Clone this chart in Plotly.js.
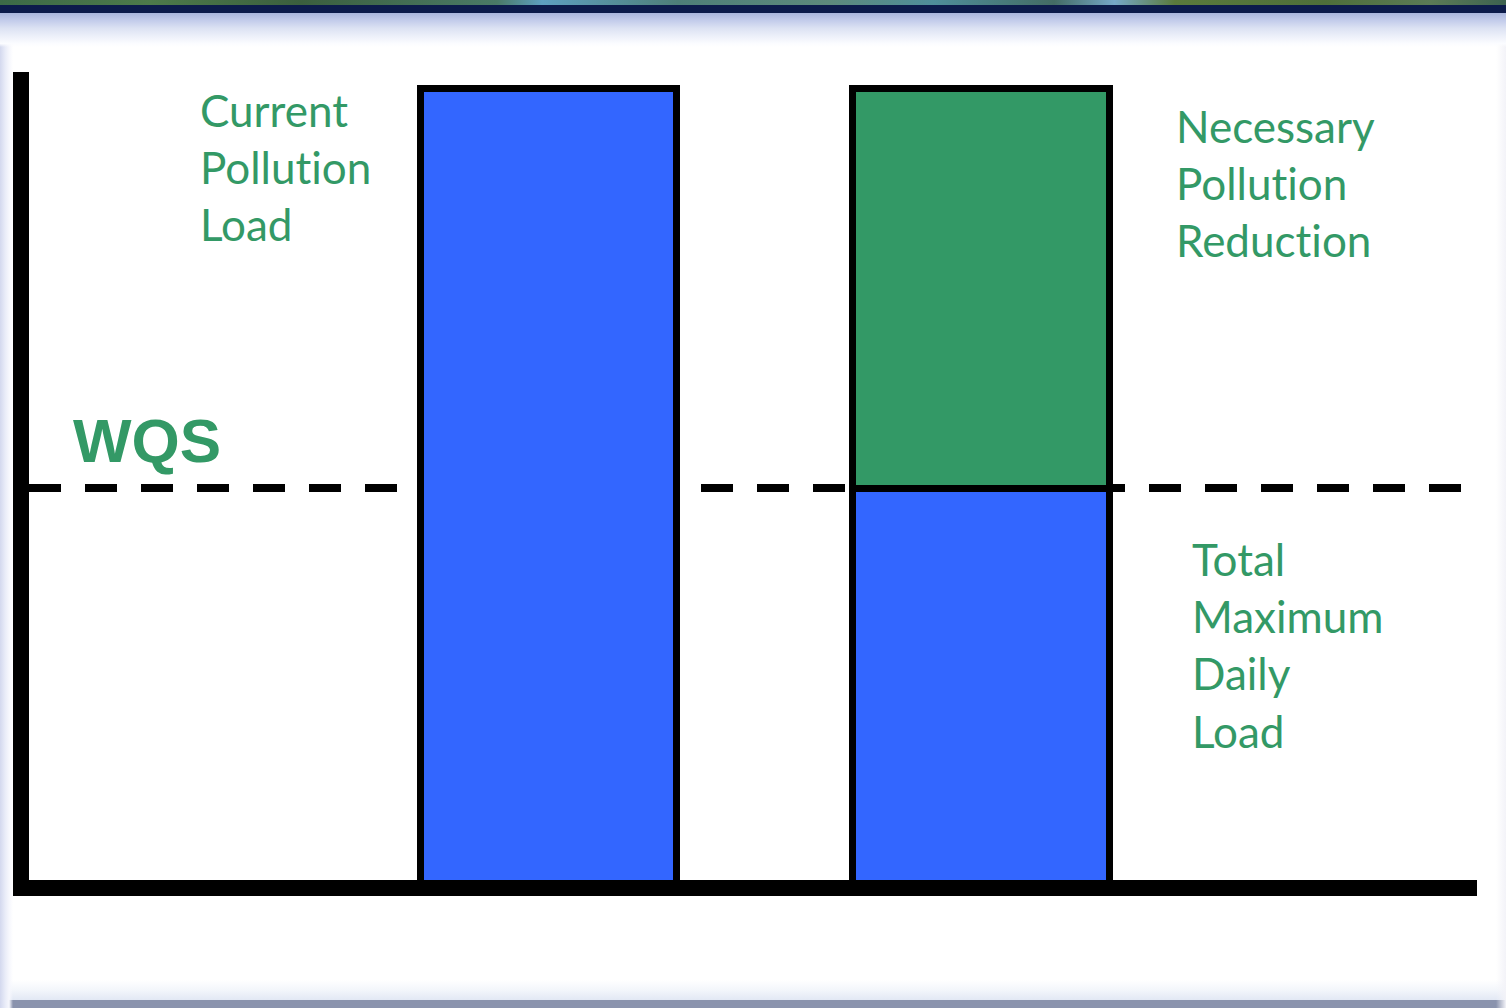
<!DOCTYPE html>
<html>
<head>
<meta charset="utf-8">
<script src="https://cdn.plot.ly/plotly-3.0.1.min.js"></script>
<style>
  html, body { margin: 0; padding: 0; width: 1506px; height: 1008px; overflow: hidden; }
  body {
    background:
      linear-gradient(to right, #3c6a47 0%, #4d7a4a 10%, #3b5f3e 20%, #4a7a66 33%, #5ea0c0 36%, #4e7f78 45%, #5d8a7c 55%, #4f8e9a 62%, #436c64 70%, #76a8c8 74%, #5a7a3c 78%, #4e6f3a 88%, #5b7b56 95%, #3d6250 100%) 0 0 / 100% 5px no-repeat,
      linear-gradient(#0c1b4b, #0c1b4b) 0 5px / 100% 8px no-repeat,
      linear-gradient(to bottom, #a9b6dd 0%, #c3cceb 22%, #dce2f3 45%, #eef1fa 70%, #fbfcff 90%, rgba(255,255,255,0) 100%) 0 13px / 100% 34px no-repeat,
      linear-gradient(to right, #d3d8ee 0%, #e9ecf8 40%, #f6f7fd 70%, rgba(255,255,255,0) 100%) 0 0 / 13px 100% no-repeat,
      linear-gradient(to left, #f3f3f8 0%, rgba(255,255,255,0) 100%) 100% 0 / 10px 100% no-repeat,
      linear-gradient(#8a93ad, #8a93ad) 0 100% / 100% 8px no-repeat,
      linear-gradient(to bottom, rgba(255,255,255,0) 0%, #f3f6fb 50%, #e2e8f4 100%) 0 980px / 100% 20px no-repeat,
      #ffffff;
  }
  #chart { position: absolute; left: 0; top: 0; width: 1506px; height: 1008px; }
  #chart text { font-variant-ligatures: none; font-feature-settings: "liga" 0, "clig" 0; }
</style>
</head>
<body>
<div id="chart"></div>
<script>
// Pollutant load before and after the TMDL allocation
const scenarios = ['Current Pollution Load', 'Total Maximum Daily Load'];
const allowedLoad = [100, 50];       // blue part of each bar
const reductionLoad = [null, 50];    // green part stacked on the second bar
const wqsLevel = 50;                 // water quality standard

const BLUE = '#3366ff';
const GREEN = '#339966';

const traces = [
  {
    type: 'bar',
    x: scenarios,
    y: allowedLoad,
    width: 0.592,
    marker: { color: BLUE, line: { color: '#000000', width: 7 } },
    hoverinfo: 'skip',
    showlegend: false
  },
  {
    type: 'bar',
    x: scenarios,
    y: reductionLoad,
    width: 0.592,
    marker: { color: GREEN, line: { color: '#000000', width: 7 } },
    hoverinfo: 'skip',
    showlegend: false
  }
];

const labelFont = { family: 'Lato, "Open Sans", sans-serif', size: 44, color: GREEN };

const layout = {
  width: 1506,
  height: 1008,
  margin: { l: 29, r: 29, t: 72, b: 128, pad: 0 },
  paper_bgcolor: 'rgba(0,0,0,0)',
  plot_bgcolor: 'rgba(0,0,0,0)',
  barmode: 'stack',
  showlegend: false,
  xaxis: {
    type: 'category',
    range: [-1.2012, 2.1468],
    showline: true, linecolor: '#000000', linewidth: 16,
    showgrid: false, zeroline: false, showticklabels: false, ticks: '',
    fixedrange: true
  },
  yaxis: {
    range: [1, 102],
    showline: true, linecolor: '#000000', linewidth: 16,
    showgrid: false, zeroline: false, showticklabels: false, ticks: '',
    fixedrange: true
  },
  shapes: [
    {
      type: 'line', layer: 'below',
      xref: 'paper', yref: 'y',
      x0: 0, x1: 0.98895, y0: wqsLevel, y1: wqsLevel,
      line: { color: '#000000', width: 8, dash: '32px,24px' }
    }
  ],
  annotations: [
    {
      text: 'WQS', xref: 'paper', yref: 'y', x: 0.029, y: 60.5,
      xanchor: 'left', yanchor: 'top', showarrow: false, align: 'left',
      font: { family: '"Liberation Sans", Arial, sans-serif', size: 62, color: GREEN, weight: 'bold' }
    },
    {
      text: 'Current<br>Pollution<br>Load', xref: 'paper', yref: 'y', x: 0.1167, y: 100.75,
      xanchor: 'left', yanchor: 'top', showarrow: false, align: 'left', font: labelFont
    },
    {
      text: 'Necessary<br>Pollution<br>Reduction', xref: 'paper', yref: 'y', x: 0.7907, y: 98.75,
      xanchor: 'left', yanchor: 'top', showarrow: false, align: 'left', font: labelFont
    },
    {
      text: 'Total<br>Maximum<br>Daily<br>Load', xref: 'paper', yref: 'y', x: 0.8018, y: 44.6,
      xanchor: 'left', yanchor: 'top', showarrow: false, align: 'left', font: labelFont
    }
  ]
};

Plotly.newPlot('chart', traces, layout, { staticPlot: true, displayModeBar: false });
</script>
</body>
</html>
